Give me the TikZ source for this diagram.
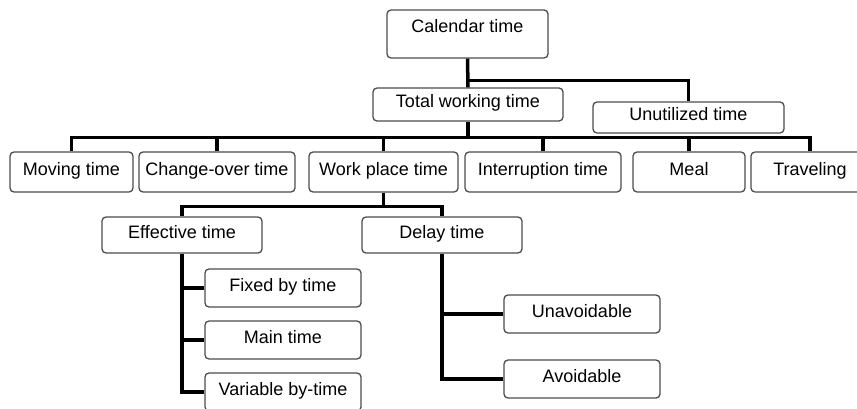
\documentclass[tikz,border=0pt]{standalone}
\usepackage{fontspec}
\setmainfont{Liberation Sans}

\begin{document}
\begin{tikzpicture}[x=1pt,y=-1pt,
  tbox/.style={draw=black!70, line width=1.3pt, rounded corners=4pt, fill=white, inner sep=0pt, minimum height=38pt, text height=12pt, text depth=5pt, font=\fontsize{18}{21}\selectfont},
  link/.style={line width=3.5pt}]
\useasboundingbox (0,0) rectangle (857,409);

\node[tbox, minimum width=161pt, text height=23pt, text depth=25pt] (cal) at (467.5,34) {Calendar time};
\node[tbox, minimum width=190pt, minimum height=33pt] (tot) at (468,104.5) {Total working time};
\node[tbox, minimum width=191pt, minimum height=31pt] (unu) at (688.5,117.5) {Unutilized time};

\node[tbox, minimum width=123pt, minimum height=40pt] (mov) at (71.5,172) {Moving time};
\node[tbox, minimum width=156pt, minimum height=40pt] (chg) at (217,172) {Change-over time};
\node[tbox, minimum width=149pt, minimum height=40pt] (wpt) at (383.5,172) {Work place time};
\node[tbox, minimum width=156pt, minimum height=40pt] (int) at (543,172) {Interruption time};
\node[tbox, minimum width=112pt, minimum height=40pt] (meal) at (689,172) {Meal};
\node[tbox, minimum width=118pt, minimum height=40pt] (trv) at (810,172) {Traveling};

\node[tbox, minimum width=160pt, minimum height=36pt] (eff) at (182,235) {Effective time};
\node[tbox, minimum width=160pt, minimum height=36pt] (del) at (442,235) {Delay time};

\node[tbox, minimum width=156pt] (fix) at (283,288) {Fixed by time};
\node[tbox, minimum width=156pt] (main) at (283,340) {Main time};
\node[tbox, minimum width=156pt] (var) at (283,392) {Variable by-time};

\node[tbox, minimum width=156pt] (una) at (582,314) {Unavoidable};
\node[tbox, minimum width=156pt] (avo) at (582,379) {Avoidable};

\draw[link] (cal.south) -- (tot.north);
\draw[link] (cal.south) -- ++(0,22) -| (unu.north);

\draw[link] (tot.south) -- ++(0,16) coordinate (bus);
\draw[link] (mov.north) |- (bus) -| (trv.north);
\foreach \n in {chg,wpt,int,meal}
  \draw[link] (\n.north) -- (\n.north |- bus);

\draw[link] (wpt.south) -- ++(0,14) coordinate (fork);
\draw[link] (eff.north) |- (fork) -| (del.north);

\draw[link] (eff.south) |- (var.west);
\draw[link] (fix.west) -- (fix.west -| eff.south);
\draw[link] (main.west) -- (main.west -| eff.south);

\draw[link] (del.south) |- (avo.west);
\draw[link] (una.west) -- (una.west -| del.south);

\end{tikzpicture}
\end{document}
